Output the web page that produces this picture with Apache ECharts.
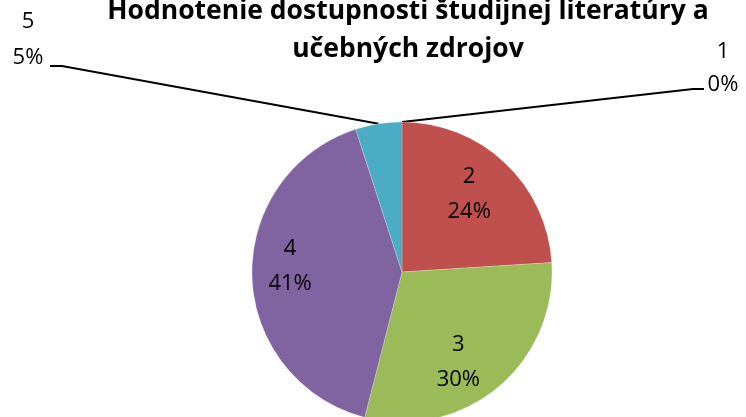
<!DOCTYPE html>
<html>
<head>
<meta charset="utf-8">
<script src="https://cdn.jsdelivr.net/npm/echarts@6/dist/echarts.min.js"></script>
<style>
  html, body { margin: 0; padding: 0; background: #fff; }
  #chart { width: 746px; height: 417px; }
</style>
</head>
<body>
<div id="chart"></div>
<script>
// Hodnotenie 1..5, podiel v %
const categories = ['1', '2', '3', '4', '5'];
const values = [0, 24, 30, 41, 5];
const colors = ['#4F81BD', '#C0504D', '#9BBB59', '#8064A2', '#4BACC6'];

const FONT = 'Open Sans';
const chart = echarts.init(document.getElementById('chart'));

const pieData = categories.map((c, i) => ({
  name: c,
  value: values[i],
  itemStyle: { color: colors[i] }
}));

// vonkajsie popisky (male hodnoty) - pozicie ako v Exceli
const outsideLabels = {
  '1': { x: 723, y: 68, line: [[693, 89], [704, 89]], lh: 33 },
  '5': { x: 28, y: 40, line: [[62, 66], [50, 66]], lh: 36 }
};
// jemne posuny vnutornych popiskov
const innerShift = {
  '2': [-2, -4],
  '3': [-8, 12],
  '4': [-11, -9]
};

const option = {
  animation: false,
  title: {
    text: 'Hodnotenie dostupnosti študijnej literatúry a\nučebných zdrojov',
    left: 403,
    textAlign: 'center',
    top: -13,
    textStyle: {
      fontFamily: FONT,
      fontSize: 26.5,
      fontWeight: 'bold',
      color: '#000',
      lineHeight: 38
    }
  },
  series: [
    {
      type: 'pie',
      center: [402, 272],
      radius: [0, 150],
      startAngle: 90,
      clockwise: true,
      stillShowZeroSum: true,
      minShowLabelAngle: 0,
      avoidLabelOverlap: false,
      itemStyle: { borderColor: 'rgba(255,255,255,0.4)', borderWidth: 0.5 },
      data: pieData.map(d => {
        const o = outsideLabels[d.name];
        return {
          ...d,
          label: { show: !!o, lineHeight: o ? o.lh : 36 },
          labelLine: { show: !!o }
        };
      }),
      label: {
        position: 'outside',
        formatter: p => p.name + '\n' + p.value + '%',
        fontFamily: FONT,
        fontSize: 22,
        color: '#000',
        align: 'center'
      },
      labelLine: {
        lineStyle: { color: '#000', width: 2 }
      },
      labelLayout: params => {
        const name = categories[params.dataIndex];
        const o = outsideLabels[name];
        if (!o) return {};
        const start = params.labelLinePoints ? params.labelLinePoints[0] : o.line[0];
        return {
          x: o.x,
          y: o.y,
          align: 'center',
          verticalAlign: 'middle',
          labelLinePoints: [start, o.line[0], o.line[1]]
        };
      },
      emphasis: { disabled: true }
    },
    {
      // neviditelna vrstva len pre vnutorne popisky
      type: 'pie',
      center: [402, 272],
      radius: [0, 196],
      startAngle: 90,
      clockwise: true,
      silent: true,
      z: 3,
      itemStyle: { color: 'rgba(0,0,0,0)' },
      data: pieData.map(d => ({
        name: d.name,
        value: d.value,
        itemStyle: { color: 'rgba(0,0,0,0)' },
        label: { show: !!innerShift[d.name] }
      })),
      label: {
        position: 'inside',
        formatter: p => p.name + '\n' + p.value + '%',
        fontFamily: FONT,
        fontSize: 22,
        lineHeight: 35,
        color: '#000'
      },
      labelLine: { show: false },
      labelLayout: params => {
        const s = innerShift[categories[params.dataIndex]];
        return s ? { dx: s[0], dy: s[1] } : {};
      }
    }
  ]
};

chart.setOption(option);
</script>
</body>
</html>
